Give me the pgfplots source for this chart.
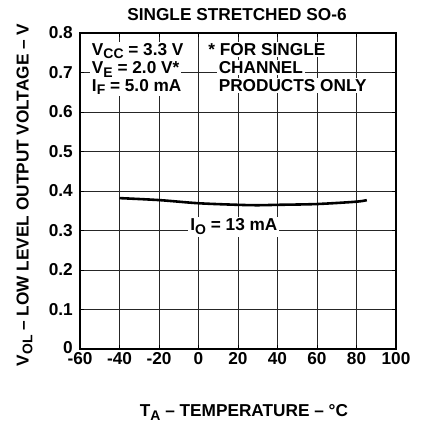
\documentclass[border=0pt]{standalone}
\usepackage{pgfplots}
\pgfplotsset{compat=1.18}
\usepackage{fontspec}
\setmainfont{Liberation Sans}
\newcommand\sub[1]{\raisebox{-0.4ex}{\fontsize{14}{14}\selectfont #1}}
\newcommand\fnt{\fontsize{17.3}{20}\selectfont\bfseries}
\begin{document}
\begin{tikzpicture}
\useasboundingbox (-80bp,-73bp) rectangle (342bp,349bp);
\begin{axis}[
  at={(0,0)}, anchor=south west,
  scale only axis, width=316bp, height=316bp,
  xmin=-60, xmax=100, ymin=0, ymax=0.8,
  xtick={-60,-40,...,100}, ytick={0,0.1,...,0.8},
  xticklabels={-60,-40,-20,0,20,40,60,80,100},
  yticklabels={\raisebox{4bp}{0},0.1,0.2,0.3,0.4,0.5,0.6,0.7,0.8},
  ticklabel style={font=\fnt},
  xticklabel style={anchor=north, inner sep=0pt, yshift=-3.5bp},
  yticklabel style={anchor=east, inner sep=0pt, xshift=-7bp},
  grid=major, major grid style={black!85, line width=0.8pt},
  axis line style={line width=1.2pt},
  tick style={black, line width=0.8pt}, tick align=inside,
  clip=false,
]
\addplot[black, line width=2.6pt, smooth] coordinates {
(-40,0.382) (-20,0.377) (0,0.369) (20,0.365) (30,0.364) (40,0.365) (60,0.367) (80,0.373) (85.2,0.377)};
\node[fill=white, inner sep=2pt, anchor=base west, font=\fnt] at (axis cs:-5.2,0.299) {I\sub{O} = 13 mA};
\node[fill=white, inner sep=1.5pt, anchor=base west, font=\fnt] at (axis cs:-54.8,0.744) {V\sub{CC} = 3.3 V};
\node[fill=white, inner sep=1.5pt, anchor=base west, font=\fnt] at (axis cs:-54.8,0.697) {V\sub{E} = 2.0 V*};
\node[fill=white, inner sep=1.5pt, anchor=base west, font=\fnt] at (axis cs:-54.8,0.653) {I\sub{F} = 5.0 mA};
\node[fill=white, inner sep=1.5pt, anchor=base west, font=\fnt] at (axis cs:4.2,0.744) {* FOR SINGLE};
\node[fill=white, inner sep=1.5pt, anchor=base west, font=\fnt] at (axis cs:9.4,0.697) {CHANNEL};
\node[fill=white, inner sep=1.5pt, anchor=base west, font=\fnt] at (axis cs:9.4,0.653) {PRODUCTS ONLY};
\end{axis}
\node[font=\fnt, anchor=base] at (157bp,328bp) {SINGLE STRETCHED SO-6};
\node[font=\fnt, anchor=base] at (164bp,-67.7bp) {T\sub{A} -- TEMPERATURE -- °C};
\node[font=\fnt, rotate=90, anchor=base] at (-51.3bp,154bp) {V\sub{OL} -- LOW LEVEL OUTPUT VOLTAGE -- V};
\end{tikzpicture}
\end{document}
